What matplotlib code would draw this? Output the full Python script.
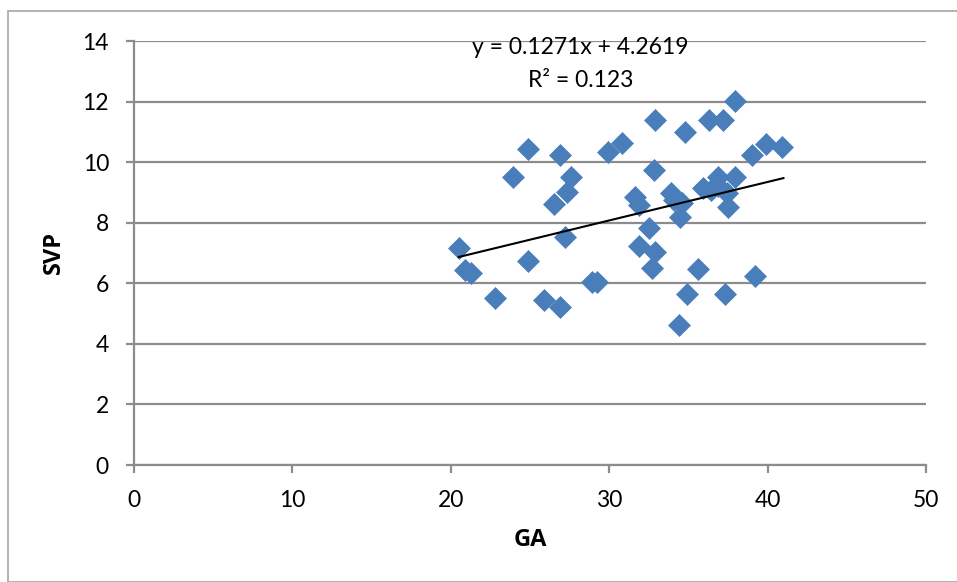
import matplotlib
matplotlib.use("Agg")
import matplotlib.pyplot as plt
from matplotlib.patches import Rectangle
import numpy as np

# Data
ga = [20.5, 20.9, 21.3, 22.8, 23.9, 24.9, 24.9, 25.9, 26.5, 26.9, 26.9, 27.2,
      27.35, 27.6, 28.9, 29.2, 29.9, 30.8, 31.6, 31.9, 31.9, 32.5, 32.7, 32.8,
      32.9, 32.9, 33.9, 34.1, 34.4, 34.5, 34.6, 34.8, 34.9, 35.6, 35.9, 36.3,
      36.4, 36.9, 36.9, 37.2, 37.3, 37.45, 37.5, 37.95, 37.95, 39.0, 39.2, 39.9, 40.9]
svp = [7.15, 6.44, 6.33, 5.52, 9.52, 10.42, 6.73, 5.45, 8.62, 10.23, 5.23, 7.52,
       9.0, 9.52, 6.03, 6.03, 10.34, 10.62, 8.86, 8.6, 7.24, 7.84, 6.51, 9.74,
       11.4, 7.04, 8.97, 8.75, 4.62, 8.2, 8.64, 11.0, 5.63, 6.46, 9.13, 11.4,
       9.08, 9.52, 9.2, 11.4, 5.63, 8.97, 8.53, 12.03, 9.52, 10.23, 6.24, 10.6, 10.5]
slope = 0.1271
intercept = 4.2619
trend_x = [20.5, 41.0]
eq_text = "y = 0.1271x + 4.2619"
r2_text = "R² = 0.123"
x_ticks = [0, 10, 20, 30, 40, 50]
y_ticks = [0, 2, 4, 6, 8, 10, 12, 14]

W, H = 957, 582
fig = plt.figure(figsize=(W / 100, H / 100), dpi=100)
plt.rcParams['font.family'] = ['Lato', 'DejaVu Sans']

# outer chart border
fig.patches.append(Rectangle((8 / W, 0), 2.0, 1 - 11 / H, transform=fig.transFigure,
                             fill=False, edgecolor='#a6a6a6', linewidth=1.2))

ax = fig.add_axes([134 / W, (H - 465) / H, 792 / W, 424 / H])
ax.set_xlim(0, 50)
ax.set_ylim(0, 14)
ax.set_xticks(x_ticks)
ax.set_yticks(y_ticks)

grid_c = '#8c8c8c'
ax.yaxis.grid(True, color=grid_c, linewidth=1.6)
ax.set_axisbelow(True)
for s in ['top', 'right']:
    ax.spines[s].set_visible(False)
for s in ['left', 'bottom']:
    ax.spines[s].set_color(grid_c)
    ax.spines[s].set_linewidth(1.6)
ax.tick_params(axis='both', direction='out', length=6, width=1.6, color=grid_c,
               labelsize=16.5, labelcolor='black')
ax.tick_params(axis='y', pad=12)
ax.tick_params(axis='x', pad=12)

ax.scatter(ga, svp, marker='D', s=125, color='#4a7ebb', edgecolors='#4a7ebb',
           linewidths=0.5, zorder=3)
tx = np.array(trend_x)
ax.plot(tx, slope * tx + intercept, color='black', linewidth=1.5, zorder=4)

ax.text(28.2, 13.8, eq_text, ha='center', va='center', fontsize=16.5, zorder=5)
ax.text(28.2, 12.7, r2_text, ha='center', va='center', fontsize=16.5, zorder=5)

bold_family = ['Open Sans', 'DejaVu Sans']
ax.set_xlabel('GA', fontsize=17, fontweight='bold', labelpad=12, family=bold_family)
ax.set_ylabel('SVP', fontsize=17, fontweight='bold', labelpad=12, family=bold_family)

fig.savefig('out.png', dpi=100)
